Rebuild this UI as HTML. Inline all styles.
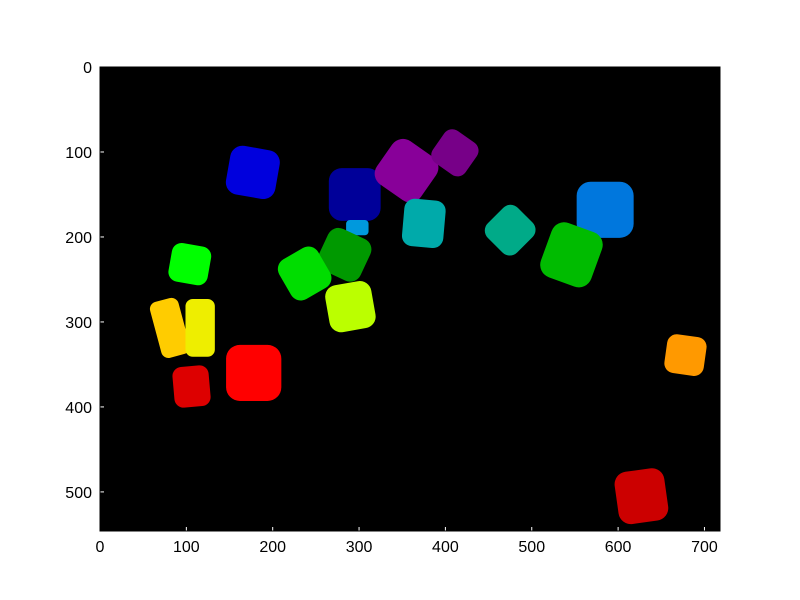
<!DOCTYPE html>
<html><head><meta charset="utf-8"><style>body{margin:0;background:#fff}svg{display:block;font-family:"Liberation Sans",sans-serif}</style></head>
<body>
<svg id="c" width="800" height="600"></svg>
<script>
const blobX=[177,295,298,355,411,375,475,585,546,283,237,290,104,81,116,106,178,678,627];
const blobY=[124,150,189,122,101,184,192,168,221,221,243,282,232,307,307,376,360,339,505];
const blobW=[58,60,26,62,46,48,48,66,62,54,52,54,46,34,34,42,64,46,58];
const blobH=[58,62,18,62,46,56,50,66,68,54,54,56,46,68,68,48,66,46,62];
const blobRot=[10,0,0,35,35,5,45,0,20,25,-30,-10,10,-15,0,-5,0,8,-8];
const blobColor=["#0000dd","#000099","#0099dd","#880099","#770088","#00aaaa","#00aa88","#0077dd","#00bb00","#009900","#00dd00","#bbff00","#00ff00","#ffcc00","#eeee00","#dd0000","#ff0000","#ff9900","#cc0000"];
const xTicks=[0,100,200,300,400,500,600,700];
const yTicks=[0,100,200,300,400,500];
const L=100,T=67,R=720,B=531,XMAX=718,YMAX=546;
const sx=v=>L+v*(R-L)/XMAX, sy=v=>T+v*(B-T)/YMAX;
const ns="http://www.w3.org/2000/svg", svg=document.getElementById('c');
function mk(t,a){const e=document.createElementNS(ns,t);for(const k in a)e.setAttribute(k,a[k]);svg.appendChild(e);return e;}
const bg=mk('rect',{x:L,y:T,width:R-L,height:B-T,fill:'#000'});


for(let i=0;i<blobX.length;i++){
  const w=blobW[i]*(R-L)/XMAX,h=blobH[i]*(B-T)/YMAX,cx=sx(blobX[i]),cy=sy(blobY[i]);
  const r=mk('rect',{x:cx-w/2,y:cy-h/2,width:w,height:h,rx:Math.min(w,h)*0.25,fill:blobColor[i],transform:`rotate(${blobRot[i]} ${cx} ${cy})`});
  
  
}
xTicks.forEach(v=>{const t=mk('text',{x:sx(v),y:B+21,'text-anchor':'middle','font-size':16,fill:'#000'});t.textContent=v;
  
  
  mk('line',{x1:sx(v),x2:sx(v),y1:B,y2:B-4,stroke:'#fff'});});
yTicks.forEach(v=>{const t=mk('text',{x:L-8,y:sy(v)+6,'text-anchor':'end','font-size':16,fill:'#000'});t.textContent=v;
  
  
  mk('line',{x1:L,x2:L+4,y1:sy(v),y2:sy(v),stroke:'#fff'});});
const fr=mk('rect',{x:L,y:T,width:R-L,height:B-T,fill:'none',stroke:'#000','stroke-width':1});


</script>
</body></html>
